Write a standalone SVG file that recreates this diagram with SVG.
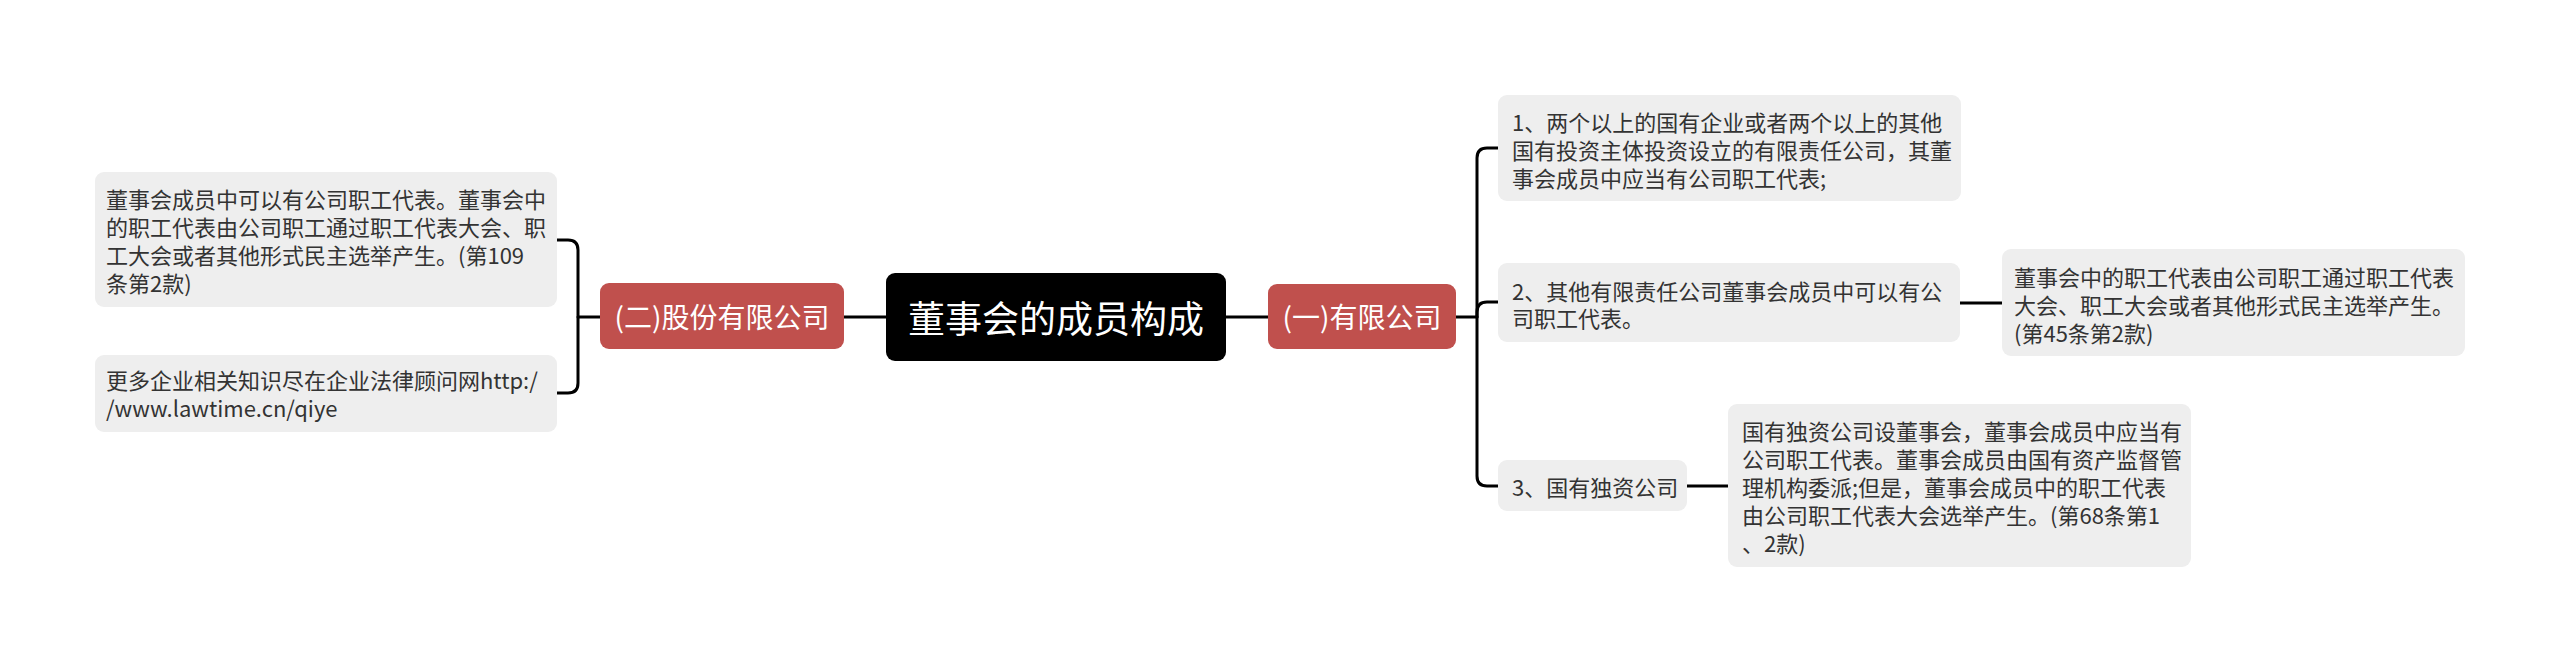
<svg xmlns="http://www.w3.org/2000/svg" width="2560" height="662" viewBox="0 0 2560 662">
<style>
.box{fill:#eeeeee}
.red{fill:#c0504d}
.t{font-family:"Noto Sans CJK SC","Noto Sans",sans-serif;font-size:22px;fill:#333333;dominant-baseline:central}
.wt{font-family:"Noto Sans CJK SC","Noto Sans",sans-serif;fill:#ffffff;dominant-baseline:central;text-anchor:middle}
.c{fill:none;stroke:#000000;stroke-width:3;stroke-linecap:round;stroke-linejoin:round}
</style>
<rect width="2560" height="662" fill="#ffffff"/>
<g id="connectors">
<path class="c" d="M844,317 H886"/>
<path class="c" d="M1226,317 H1268"/>
<path class="c" d="M557,240 H568 Q578,240 578,250 V383 Q578,393 568,393 H557"/>
<path class="c" d="M578,317 H600"/>
<path class="c" d="M1456,317 H1477"/>
<path class="c" d="M1498,148 H1487 Q1477,148 1477,158 V476 Q1477,486 1487,486 H1498"/>
<path class="c" d="M1477,317 V312 Q1477,302 1487,302 H1498"/>
<path class="c" d="M1960,303 H2002"/>
<path class="c" d="M1687,486 H1728"/>
</g>
<g id="root">
<rect x="886" y="273" width="340" height="88" rx="9" fill="#000000"/>
<text class="wt" x="1056" y="317" font-size="37">董事会的成员构成</text>
</g>
<g id="left-branch">
<rect class="red" x="600" y="283" width="244" height="66" rx="9"/>
<text class="wt" x="722" y="316" font-size="28">(二)股份有限公司</text>
</g>
<g id="left-1">
<rect class="box" x="95" y="172" width="462" height="135" rx="9"/>
<text class="t" x="106" y="198">董事会成员中可以有公司职工代表。董事会中</text>
<text class="t" x="106" y="226">的职工代表由公司职工通过职工代表大会、职</text>
<text class="t" x="106" y="254">工大会或者其他形式民主选举产生。(第109</text>
<text class="t" x="106" y="282">条第2款)</text>
</g>
<g id="left-2">
<rect class="box" x="95" y="355" width="462" height="77" rx="9"/>
<text class="t" x="106" y="379">更多企业相关知识尽在企业法律顾问网http:/</text>
<text class="t" x="106" y="407">/www.lawtime.cn/qiye</text>
</g>
<g id="right-branch">
<rect class="red" x="1268" y="284" width="188" height="65" rx="9"/>
<text class="wt" x="1362" y="316" font-size="28">(一)有限公司</text>
</g>
<g id="right-1">
<rect class="box" x="1498" y="95" width="463" height="106" rx="9"/>
<text class="t" x="1512" y="121">1、两个以上的国有企业或者两个以上的其他</text>
<text class="t" x="1512" y="149">国有投资主体投资设立的有限责任公司，其董</text>
<text class="t" x="1512" y="177">事会成员中应当有公司职工代表;</text>
</g>
<g id="right-2">
<rect class="box" x="1498" y="263" width="462" height="79" rx="9"/>
<text class="t" x="1512" y="290">2、其他有限责任公司董事会成员中可以有公</text>
<text class="t" x="1512" y="317">司职工代表。</text>
</g>
<g id="right-2-child">
<rect class="box" x="2002" y="249" width="463" height="107" rx="9"/>
<text class="t" x="2014" y="276">董事会中的职工代表由公司职工通过职工代表</text>
<text class="t" x="2014" y="304">大会、职工大会或者其他形式民主选举产生。</text>
<text class="t" x="2014" y="332">(第45条第2款)</text>
</g>
<g id="right-3">
<rect class="box" x="1498" y="460" width="189" height="51" rx="9"/>
<text class="t" x="1512" y="486">3、国有独资公司</text>
</g>
<g id="right-3-child">
<rect class="box" x="1728" y="404" width="463" height="163" rx="9"/>
<text class="t" x="1742" y="430">国有独资公司设董事会，董事会成员中应当有</text>
<text class="t" x="1742" y="458">公司职工代表。董事会成员由国有资产监督管</text>
<text class="t" x="1742" y="486">理机构委派;但是，董事会成员中的职工代表</text>
<text class="t" x="1742" y="514">由公司职工代表大会选举产生。(第68条第1</text>
<text class="t" x="1742" y="542">、2款)</text>
</g>
</svg>
